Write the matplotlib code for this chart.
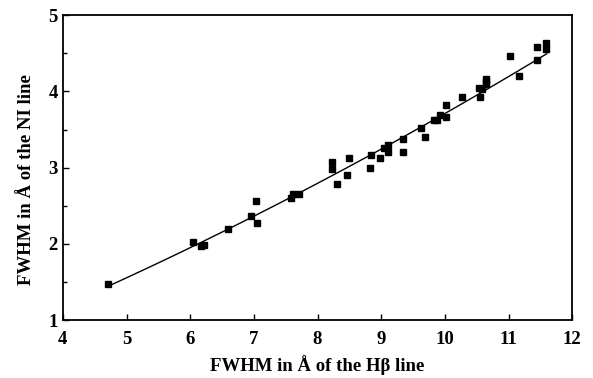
import numpy as np
import matplotlib
matplotlib.use("Agg")
import matplotlib.pyplot as plt
from matplotlib.ticker import MultipleLocator

# FWHM readings (Angstrom): H-beta line vs NI line
hbeta = [4.71, 6.04, 6.17, 6.22, 6.60, 6.96, 7.03, 7.05, 7.59, 7.62, 7.71,
         8.23, 8.23, 8.31, 8.49, 8.47, 8.83, 8.84, 8.98, 9.04, 9.10, 9.10,
         9.34, 9.34, 9.62, 9.68, 9.83, 9.88, 9.92, 10.01, 10.02, 10.27,
         10.53, 10.55, 10.58, 10.64, 10.64, 10.64, 11.03, 11.16, 11.44,
         11.45, 11.59, 11.59]
ni = [1.48, 2.02, 1.97, 1.99, 2.20, 2.37, 2.56, 2.28, 2.60, 2.66, 2.65,
      3.07, 2.98, 2.79, 3.12, 2.90, 2.99, 3.17, 3.12, 3.26, 3.30, 3.21,
      3.38, 3.21, 3.52, 3.40, 3.62, 3.63, 3.69, 3.82, 3.67, 3.93,
      4.05, 3.93, 4.03, 4.16, 4.13, 4.10, 4.46, 4.20, 4.58,
      4.41, 4.64, 4.55]

# fitted curve
fit_x = [4.71, 6.15, 6.60, 6.97, 7.60, 7.73, 8.98, 9.61, 10.56, 11.45, 11.60]
fit_y = [1.44, 2.01, 2.20, 2.38, 2.61, 2.66, 3.23, 3.51, 4.01, 4.41, 4.49]

xticks = [4, 5, 6, 7, 8, 9, 10, 11, 12]
yticks = [1, 2, 3, 4, 5]

plt.rcParams['font.family'] = ['Liberation Serif', 'DejaVu Serif']
plt.rcParams['font.weight'] = 'bold'

fig = plt.figure(figsize=(5.93, 3.78), dpi=100)
ax = fig.add_axes([0.106, 0.153, 0.859, 0.807])

ax.plot(hbeta, ni, 's', color='black', markersize=4.3)

# smooth the read curve with a 2nd order polynomial
coef = np.polyfit(fit_x, fit_y, 2)
xs = np.linspace(fit_x[0], fit_x[-1], 100)
ax.plot(xs, np.polyval(coef, xs), color='black', linewidth=1.0)

ax.set_xlim(4, 12)
ax.set_ylim(1, 5)
ax.set_xticks(xticks)
ax.set_yticks(yticks)
ax.yaxis.set_minor_locator(MultipleLocator(0.5))
ax.tick_params(direction='in', length=4, width=1.0, labelsize=13.5)
ax.tick_params(which='minor', direction='in', length=3, width=1.0)
ax.tick_params(axis='x', pad=8)
for s in ax.spines.values():
    s.set_linewidth(1.3)

ax.set_xlabel("FWHM in Å of the Hβ line", fontsize=13.5, fontweight='bold', labelpad=5)
ax.set_ylabel("FWHM in Å of the NI line", fontsize=13.5, fontweight='bold',
              labelpad=10, y=0.46)

fig.savefig("out.png", dpi=100)
